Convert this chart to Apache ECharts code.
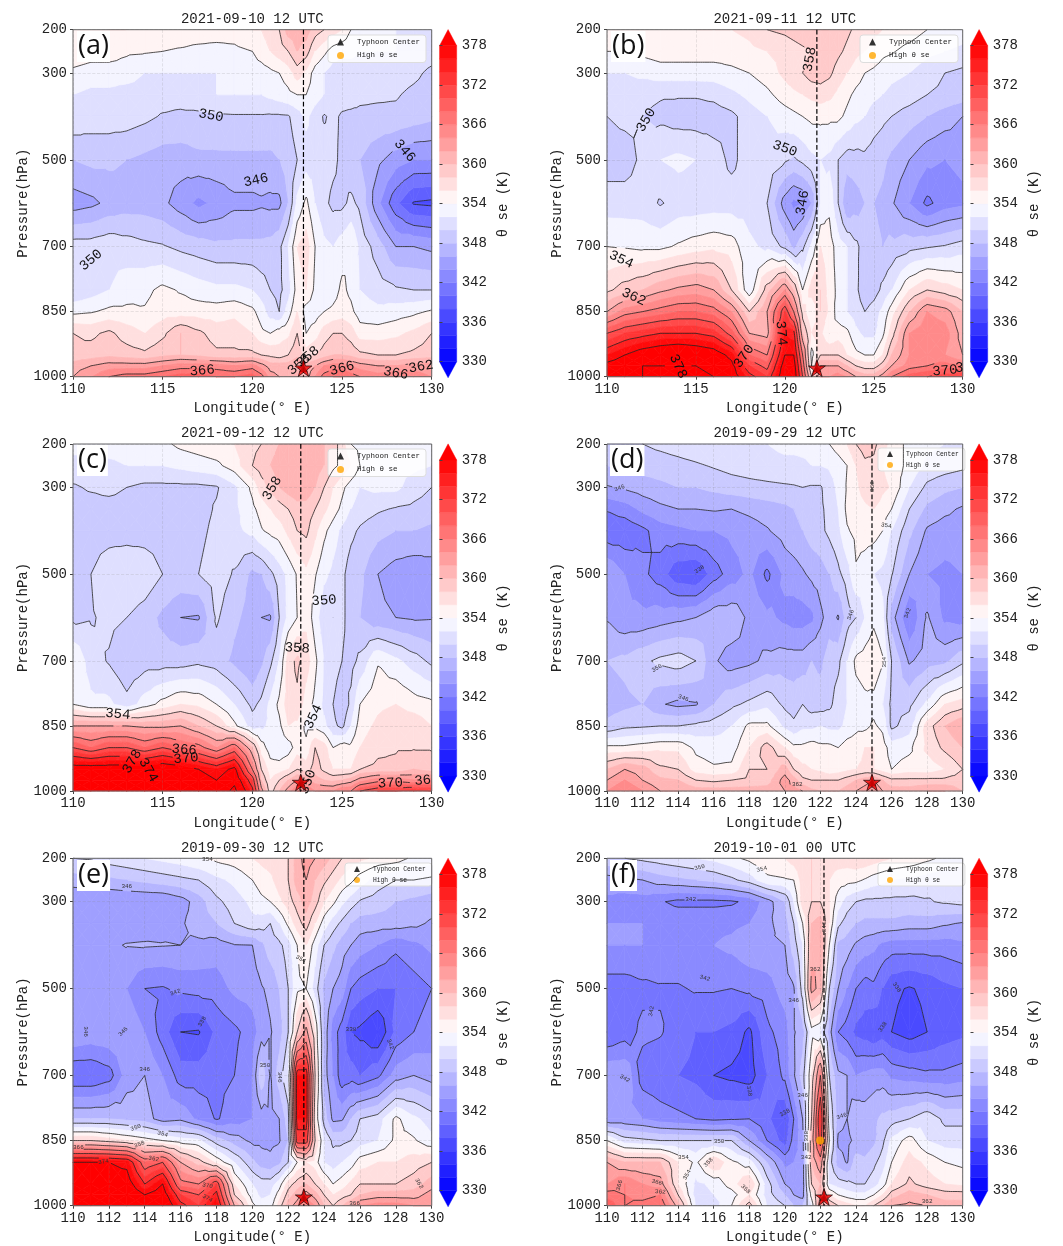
<!DOCTYPE html>
<html><head><meta charset="utf-8">
<script src="https://cdn.jsdelivr.net/npm/echarts@6/dist/echarts.min.js"></script>
<style>html,body{margin:0;padding:0;background:#fff}#c{width:1063px;height:1246px}</style>
</head><body><div id="c"></div>
<script>
var pressures=[200,250,300,350,400,500,600,700,800,850,900,950,975,1000];
var longitudes=[110,111,112,113,114,115,116,117,118,119,120,120.5,121,121.5,122,122.5,123,123.5,124,124.5,125,125.5,126,127,128,129,130];
var pressureTicks=[200,300,500,700,850,1000];
var titles=['2021-09-10 12 UTC','2021-09-11 12 UTC','2021-09-12 12 UTC','2019-09-29 12 UTC','2019-09-30 12 UTC','2019-10-01 00 UTC'];
var tags=['(a)','(b)','(c)','(d)','(e)','(f)'];
var centers=[[122.85,980],[121.8,980],[122.7,980],[124.9,980],[122.87,980],[122.2,980]];
var highPoints=[[],[],[],[],[],[[121.98,850]]];

var thetaA=[
[355,355,356,356,355,355,355,355,355,355, 356,356,357,358,361,361,361,359,358,357,356,354,353, 353,352,352,352],
[355.5,355,355,354.3,354.2,354,353.8,353.5,353.3,353.5, 354,355,356,357,358,360,359,356,354.5,353,352.5,352.5,352, 352,352,351.5,351],
[353.5,353,353,353,352,352,352,352,352,353, 353,353,353.5,354,355,357,355.5,353,352,351,351,351,351, 351,351,350.5,349.5],
[352,351.5,351.5,351,351,351,351,351.5,352,352, 352,352,352.5,353,353.5,354,354,353,352,351.5,351,351,350.5, 350.3,350.2,349.5,349],
[351.5,351,351,351,350.5,349.8,349.5,349.5,349.7,349.8, 349.8,349.8,349.7,349.7,349.8,351,352.5,351,349.8,350.5,349.7,349.5,349.5, 349.5,349.5,349,348.5],
[348,348.5,348.5,348,347.5,347,347,347.5,347.5,347.5, 347.5,347.5,347.5,348,349,350,351,351,351,350.5,349.5,348.5,348, 346.5,345,344,344],
[345,345.5,346.5,347,347,346.5,345,343.5,344.5,345.5, 345.5,345.7,345.5,345.5,348,352.5,354.5,352,350.5,349.5,349.5,350.5,349.5, 344.5,340.5,337.8,337.5],
[351,351,351.5,351,350.5,350.2,349.5,349,348.5,348.5, 348.5,348.5,348.7,349.5,352,356,357,354,352.5,352,353,354,351.5, 349,346,346,345.5],
[350,351,352,353,353.5,354.5,353.8,353,352.5,352.5, 352,351,350,349.5,351,355,356,353.5,352,353,354.5,353.5,352, 351,350.3,350,350],
[353.5,353.8,354.5,354.5,354.2,355,355,355,355,355.5, 354.5,353,351,350,353,356,353,353,354,354.5,355,354.5,353, 352.5,353,353.5,354.3],
[358,357.5,358.5,357,356,357.5,360,358.5,357,357, 356,354.5,354,355,355.5,358,354,355,357,358,358,357,355, 355,355.5,356.5,358],
[358.5,359,359.5,359,358.5,359.5,360,359.5,358.5,358.5, 358.5,358,357.5,357,358,359.5,357,358,359,360,360,359.5,358.5, 358,358,358.5,359],
[361,362,363,363,363,364,365,365,365,364, 365,363,361,361,361,362,361,362,364,365,365,364,363, 362,362,363,363],
[362,364,366,367,367,368,369,369,368,368, 369,367,363,362,361,361,361,364,367,368,368,367,366, 365,366,365,364]];

var thetaB=[
[355,355,355,355.5,355.5,356,356,356,356.5,358, 358.5,359,359.5,360,360,360,359.5,358.5,357.5,357,356.5,356,355.5, 355,354,353.5,353],
[354,354,354.5,355,355,355,355,355,355.5,356, 356.5,357,357.5,358,359,359.5,358.5,357.5,356.5,356,355.5,354.5,354.2, 353.3,352.5,352,351.5],
[352,352,352.5,353,353,353,353,353.5,354,355, 356.5,357.5,358,359,359,358.5,357,356,355,354,353.5,353,352.5, 352,351,350,349.5],
[351,351,350.5,350.2,350.2,350.2,350.5,351.5,352.5,353.5, 355,355.5,356,356.5,357,356.5,355.5,354.5,353.5,353,352.5,352,351.5, 351,350,349.5,349],
[350,350.5,350,349.5,349,349,349,349.5,351,352, 353,353.5,354,354.5,354.5,354.5,354.5,353.5,352.5,352,351,350.5,350, 349,348,347,346],
[349,349,350.5,352,352.5,352,351,349.5,351,351.5, 350.3,349.7,350.5,351.5,352,351.5,350,349,349.2,349.5,349,348.5,347.5, 346,344.5,344,344.5],
[351,351,351,349.8,350.8,350.8,351,351,351,350, 345,343.5,344,346,352,353.5,350,346,347,348,348,347.5,346.3, 344,341.5,343,343.5],
[354,353.8,353.5,353.5,354.3,355,355.5,355,352.5,351.5, 349.5,347.5,349.5,352.5,356,355,353,352,350.5,349,348.5,348,348.5, 349.3,349.8,350.2,351],
[357.5,359,360,361.5,362.5,363,362,358,352.5,359, 364,360,354,357,358,355,353.5,352,350.5,348.5,349,350.5,352, 356,358,357,356],
[362,365,366,367,368,368,367,364,358,362, 372,366,357,354,358,355.5,353,352,351,350,351,352.5,355, 360,364,363,360],
[370,372,373,374,374,374,373,369,362,361, 376,375,360,356,356.5,354,355,354.5,352.5,351.5,351.5,353.5,357, 364,365.5,365,361],
[376,378,380,381,382,381,380,377,368,366, 378,378,366,353,358,358,358,356,354.5,354,354,356,360, 364,365,364,362],
[379,380,382,382,382,382,381,379,372,369, 380,380,368,354,362,362,362,360,358,357,357,359,362, 365,366,367,366],
[380,381,382,383,383,383,382,380,375,372, 381,381,370,358,364,364,365,364,362,361,361,363,366, 369,370,371,372]];

var thetaC=[
[353,353,353,353,353,353.5,354.5,355,355.5,356, 357.5,358,359,360,361,361.5,361.5,361,360,359,357,354,353.5, 353,352.5,352.5,352.5],
[351,351,351.5,352,352,352,352.5,353,353.5,355, 358,359,360,361,361.5,361.8,361.5,361,360,358.5,357.5,356,354, 353,352.5,352.5,352],
[349.8,350.2,350.5,350,349.5,349.5,349.5,349.5,349.8,351.5, 354.5,357,358.5,360,361,361.7,361.5,360,358,356,354.5,353,352, 352.5,352.5,351,350],
[349.3,349.3,349.3,349.3,349,349,349,349.3,350.2,351.5, 353.5,354.8,356,357,358,359,359,358,356.5,355,353.5,352,351, 350.3,349.8,349.5,349],
[349,349,349,349,349,349,349,349.5,350.5,351.5, 352.5,353.8,354.5,355,356.5,358,358.5,356.5,354.5,353,351.5,350.5,349.7, 348.7,348,348,347.5],
[349.5,350,351.5,352,351.5,350,349.5,350,351,349.8, 347.5,348,349.5,351,352.5,354.2,355.5,354.2,352.5,351.5,350.5,349,348.5, 346,345,344.5,345],
[349.5,349.8,350.5,350,349,347.5,346,345.8,350.3,348.5, 347,346,345.8,350,352.5,354,355.5,353,350.5,350,350.5,349,348, 346.5,346,345.7,345.8],
[354,351,349.8,348.3,349,349,349,349.5,349,347.5, 346,347.5,349.5,352,357,358.5,357,354.5,352,351,350,349.3,350.5, 353.8,352.5,351,349.5],
[354,352.5,352.5,350.7,353,354.7,356,355.5,354,352, 349.5,350.5,352.5,354.5,357,357.5,355,353.5,351.5,350,348.5,350.5,354, 355.5,356,355,354.5],
[362,362,362,362,361.5,361.5,362,360,358,354.5, 351,351.5,352.5,353.5,356,355.5,353.5,353.5,352.5,350.5,349.5,352,355, 356.5,357.5,357.5,356],
[370,368,370,370,368,370,368,367,364,368, 360,355,353,352.5,353,355,354.5,358,357,354,355,354.5,356, 357.5,357.8,357.8,357.8],
[380,380,380,380,380,381,380,378,376,379, 366,358,355,355,356,358,357,359,357.5,356,356,356,358, 358.5,358.5,360,359],
[381,381,381,381,380,381,381,380,378,381, 372,360,356,358,360,362,362,361,360,359.5,360,361,363, 365,365,364,365],
[382,382,382,382,381,382,382,381,379,383, 375,363,357,360,363,366,366,364,364,364,366,366,370, 372,372,373,372]];

var thetaD=[
[349.5,349.7,350,350.5,351,351.5,352,352,352,352, 352.5,352.5,352.5,352.5,353,354,355,356,358,359,358.5,357,355, 353.5,352.5,352,352],
[348,348.5,348.8,349,349.3,349.7,350.2,350.7,351,351.3, 351.5,351.5,351.7,352,352,352.3,353,354,356,357.5,357.5,356,355, 353.5,351.5,351,350.5],
[345.8,346.3,347,347.5,348,348,348.5,349,349.3,349.5, 349.7,349.8,350,349.8,349.8,351,352.5,354.2,355.5,357,358,356.5,355.8, 352,349.5,348.5,348],
[342.2,343,344.5,345.5,346,346,346.2,346,346.5,347, 347.5,348,348.5,349.3,349.7,350.5,352,354.5,355,355.5,356,355,354, 350,347.5,346.5,345.7],
[340.5,340.5,341.5,343,343.5,344,344,344.5,345,345.8, 347,347.5,348,349,349.5,350.5,351.5,353.8,354.5,355,354.8,354,352, 348.5,345.7,345,345],
[346,344,342.5,341,338.5,338,341,343,344.5,341.5, 344.5,345,345.7,346.5,347,348,349.5,351,353.8,352.8,352,351.5,350.2, 346,344,343.5,344],
[345.8,344.5,344.5,345,345.5,346,347.5,347.5,345.5,344.5, 343.5,343,343,343.5,345.5,347,345.8,349,350,352,353.5,352.5,347, 342,346.3,343.5,343],
[348,348.5,349.5,350.5,351,350,346.3,345,345.5,346.5, 347,347,347,348,347.5,349,349.5,352,354.5,355,355.5,354.2,350, 345.7,347,347.5,349.5],
[347,347.5,348,346.2,345.5,345.8,348,349.5,350.5,351.5, 349.5,349,350,349,349,349.5,351,352,353,353.5,353.3,352,349.5, 349.5,352.5,356,357],
[348.5,349.5,349.7,350,350,350.5,351,352,354.5,354.5, 351.5,350.5,351.5,351.5,352,351.5,351.5,352.5,353.5,353.5,354.3,353.5,349.5, 351,357,360,362],
[354.5,354.5,355,355.5,355.5,353.5,353,353,356,359, 356,354.5,354.5,355,354.5,354.5,354,355,355,356,356,355,353, 353.5,356.5,358.5,360],
[360,362,361,358.5,358,355,354.3,354.5,358,358, 361,358,356.5,356,355.5,354.5,355,355.5,356,356.5,356,355,354, 355,354.8,356,358],
[362,364,362,360.5,360,358,357.5,358,358.5,359, 363,361,358.5,358,358,358,358,359,360,361,362,360,358.5, 358.5,358.5,358.5,359],
[364,366,364,362,362,361,361,361,361,361, 362,363,362,360.5,360,360,360,361,362,363,364,362,361, 361,362,362,360]];

var thetaE=[
[350,350.2,351,351.5,352,352.5,353,353.8,354.5,355, 356,356.5,357,357.5,358,361,363,362,361,359.5,358,357,356.5, 355.5,355,353.5,353],
[347,347.5,347.5,348,348.5,349,349.5,350,351.5,352.5, 354,355,355.5,357,358,361,362,360,358.5,357,355.5,354.5,353, 351,350,350,349.5],
[344,344,344,344,344,344,345,347,349.5,351, 352.5,353.5,354,355.5,357,359,361,359,356,354.5,352.5,351,349.8, 349,348,347.5,347],
[345,345,345,345,345,345.3,345.7,347,348,350, 351.5,351,350,352,354.5,357,359,356,353,351,349.5,348,347, 347,347,346.5,345.7],
[345,345,345.7,346.1,346.2,346.1,346,345.5,345,345.9, 346,347.5,349,349.5,351,354,356,353,350,348.5,347,346,345, 344,342.5,343.5,344.5],
[345.7,345,345,344,342,341.8,342.5,342.8,343,344.5, 345,345.8,346.5,348,350,353.5,354,351,347.5,346,345,342,341, 340,340,341,342],
[346,345.5,345.8,345.7,344,341,338,337.8,340.5,341.5, 343,345,345.8,347,350,358,363,356,347.5,343,341,338,337.5, 336,340.5,342,343],
[340,340,341,345,346,344,341,341,341.5,342, 344,349.5,345.8,349,352,376,376,358,347,344,340.5,341,340, 341.5,345,346,345],
[348,348,348,347.5,347,345,345.5,343.5,341.8,343, 344,345,345.5,346,349,376,376,356,349,345.5,345.7,348,350, 351,354.5,352.5,351],
[358,358,357,356,355,354,353,352.5,349,347, 345.5,345.5,345.5,345.8,348,372,372,358,352,349.5,349.5,350,351, 352,354.5,354.3,352.5],
[378,378,378,377,368,370,362,359,355.5,352, 348.5,347,346.5,347.5,350,354,356,355,352,351,352,353,355, 356,356,357,358],
[380,380,380,380,374,378,367,366,372,356, 352,351,351,353,357,359,360,358,356,354,355,356.5,358, 358,358,359,361],
[381,381,381,381,378,380,372,370,375,358, 353,351.5,352,355,359,361,363,361,358,356,357,358,360, 361,361,361,363],
[382,382,382,382,380,382,375,372,378,362, 354.5,353,353,357,361,363,366,364,360,358,360,362,364, 365,365,364,364]];

var thetaF=[
[349.5,350,350.5,351,351.5,352,352.5,353.5,354.5,355.5, 356,357,358,358,358,357,357,357,357.5,357.5,357,356.5,356, 355.5,354.5,353.5,353],
[345,345.5,346,347,347.5,348,348.5,349.5,351,353.5, 353.8,354,357,358,357.5,356,355,354.7,354.5,353.8,353,352.5,352, 351.5,351,350.5,350],
[343.5,343,343,342.2,341.5,341.5,341.5,341.7,342.5,345, 348,352,357,358,358,356,353,351,350,349.5,349.5,349.5,349.5, 349.5,349.8,350.3,350.7],
[344,344,344,343.5,343.5,343.5,343.5,343.5,344,345.5, 347,350,354,360,361,356,350.5,349,348,347.5,347.5,347.5,347.5, 347,347,346.3,345.8],
[344,344,344,343.5,343.5,343.8,344,344.5,345.5,345.7, 346,349,352,361,362,354,347.5,347,345.7,345,344.5,343.5,343, 343,343,343,343.5],
[341,341,341.5,341.8,341.8,342.2,342.2,342,342.5,343, 345,345.8,351,363,361,350,346,344,342,341,341.5,340,338.5, 337.8,338.5,339.5,340],
[340,341,342.5,342.2,341,340,340,339.5,337.5,341.5, 343,345.8,347,353,352,347,342,341,339.5,339,338.2,339,338, 337,338,339,339.5],
[345.8,345.8,341,340.5,340,339.5,338,337.5,337,340, 342.5,345.7,349,356,366,350,346.5,346,344,344.5,345,345,343.5, 343,342.5,342.5,343],
[344.5,344.5,344,343,342.5,342,341.5,341.8,342,340.5, 338,342,346,358,374,352,347,346,347.5,347,347.5,348.5,349, 350,351.5,349.5,349.5],
[354,351,350.5,350,350,350,350,350,346,342, 339,343,345,360,372,354,345.5,345.5,346.5,346.5,347.5,349.5,352.5, 355,352,351,351],
[362,360,360,360,356,353.5,358,354.5,353,348, 343.5,344,344.5,360,364,351,347,345.8,349,348.5,349.5,351,354, 357,355.5,354,353.5],
[364,366,364,363,356,351.5,352.5,355,358,351, 346,345,344.5,358,360,352,351,350.5,350,350,351,353,356, 358.5,357,356,355.5],
[367,366,365,366,358,351,352,353,356,351, 348,346,345,355,362,356,354,353,352.5,352.5,354,356,359, 361,360,359,359],
[370,366,367,368,361,352,351,354,359,352, 350,348,348,352,364,360,358,357,356,356,358,360,362, 362.5,362,361,361]];

var labelsA=[[117.7,398,'350',-10],[120.2,547,'346',12],[128.5,479,'346',-50],[111,731,'350',40],[117.2,986,'366',5],[125,981,'366',15],[128,992,'366',-10],[129.4,977,'362',10],[123.1,954,'358',40],[122.6,972,'358',40]];
var labelsB=[[121.4,268,'358',80],[112.2,408,'350',60],[120,474,'350',-20],[121,599,'346',80],[110.8,730,'354',-25],[111.5,816,'362',-25],[119.8,900,'374',-85],[117.7,953,'370',55],[114,976,'378',-65],[129,986,'370',5],[129.8,980,'3',0]];
var labelsC=[[121.1,302,'358',60],[124,561,'350',5],[122.5,671,'358',-3],[112.5,823,'354',-5],[123.4,829,'354',65],[116.2,905,'366',-5],[116.3,925,'370',5],[113.3,932,'378',60],[114.2,952,'374',-60],[127.7,982,'370',3],[129.5,976,'36',5],[123.1,979,'350',70]];
var labelsD=[[110.7,302,'346',20],[115.2,489,'338',35],[112.8,717,'350',30],[114.3,786,'346',-20],[123.7,594,'346',70],[126.9,590,'342',70],[125.7,388,'354',-10],[125.6,703,'354',90],[124.9,298,'358',90],[120.7,985,'362',0]];
var labelsE=[[113,265,'346',0],[115.7,509,'342',20],[117.2,576,'338',60],[110.7,599,'346',-90],[112.8,599,'346',45],[114,686,'346',0],[120.7,676,'350',0],[121.5,704,'346',-90],[125.5,595,'338',0],[127.7,628,'342',-70],[113.5,820,'350',20],[115,835,'354',-15],[113.7,859,'358',20],[110.3,866,'366',0],[114.5,892,'362',-10],[111.7,899,'374',10],[117.5,954,'370',-10],[117.5,983,'374',-30],[129.3,949,'362',-60],[122.7,432,'354',-30],[117.5,203,'354',0],[125.7,995,'366',0]];
var labelsF=[[115.2,221,'350',15],[118.7,225,'354',15],[114.7,294,'342',0],[115.5,476,'342',-15],[112.5,552,'342',80],[111,707,'342',-30],[118,736,'338',-80],[120.5,528,'346',0],[121.7,457,'362',0],[121,745,'346',0],[120,786,'338',30],[123.2,794,'346',20],[116.3,851,'350',0],[114.3,888,'354',0],[115.7,900,'358',45],[114.5,929,'354',60],[117.8,962,'358',-45],[112.8,946,'366',-15],[113,968,'362',-5],[110.7,953,'366',75],[128,989,'362',0],[121.2,889,'342',0],[125.5,588,'338',55],[126.3,497,'338',-55],[122.2,358,'346',90],[121.2,840,'338',90]];

var panels=[thetaA,thetaB,thetaC,thetaD,thetaE,thetaF];
var panelLabels=[labelsA,labelsB,labelsC,labelsD,labelsE,labelsF];

var FONT='"Liberation Mono","DejaVu Sans Mono",monospace';
var gridX=[[73,358.7],[607,355.7]];
var gridY=[[29.7,347],[444,347],[858.3,347.4]];
var tagBox=[[77,31],[611,31],[77,445],[610,445],[77,860],[610,860]];
var legendPos=[[328,35,7.5],[860,35,7.5],[328,449,7.5],[878,448,6.3],[345,863,6.3],[878,863,6.3]];
var STAR='path://M50,2 L61.8,38 L100,38 L69,60.5 L80.9,97 L50,74.5 L19.1,97 L31,60.5 L0,38 L38.2,38 Z';

var bandEdges=[];for(var b=330;b<=378;b+=2)bandEdges.push(b);
function bandColor(i){ // bwr colormap sampled at band centre
  if(i<0)return 'rgb(0,0,255)'; if(i>=bandEdges.length-1)return 'rgb(255,0,0)';
  var t=(i+0.5)/(bandEdges.length-1),c;
  if(t<0.5){c=Math.round(510*t);return 'rgb('+c+','+c+',255)';}
  c=Math.round(510*(1-t));return 'rgb(255,'+c+','+c+')';
}
var contourLevels=[];for(var l=334;l<=382;l+=4)contourLevels.push(l+0.001);

function clipAbove(poly,lim,sign){
  var out=[];
  for(var i=0;i<poly.length;i++){
    var a=poly[i],c=poly[(i+1)%poly.length];
    var ai=sign*(a[2]-lim)>=0,ci=sign*(c[2]-lim)>=0;
    if(ai)out.push(a);
    if(ai!==ci){var f=(lim-a[2])/(c[2]-a[2]);out.push([a[0]+f*(c[0]-a[0]),a[1]+f*(c[1]-a[1]),lim]);}
  }
  return out;
}
function cellTriangles(Z,i,j){
  var x0=longitudes[i],x1=longitudes[i+1],y0=pressures[j],y1=pressures[j+1];
  var a=[x0,y0,Z[j][i]],c=[x1,y0,Z[j][i+1]],d=[x1,y1,Z[j+1][i+1]],e=[x0,y1,Z[j+1][i]];
  var m=[(x0+x1)/2,(y0+y1)/2,(a[2]+c[2]+d[2]+e[2])/4];
  return [[a,c,m],[c,d,m],[d,e,m],[e,a,m]];
}
function makeCells(){var out=[];for(var j=0;j<pressures.length-1;j++)for(var i=0;i<longitudes.length-1;i++)out.push([longitudes[i],pressures[j],i,j]);return out;}

var option={animation:false,backgroundColor:'#fff',grid:[],xAxis:[],yAxis:[],series:[],title:[],legend:[]};

panels.forEach(function(Z,k){
  var gx=gridX[k%2],gy=gridY[Math.floor(k/2)],small=k>=3;
  option.grid[k]={left:gx[0],top:gy[0],width:gx[1],height:gy[1]};
  option.xAxis[k]={type:'value',gridIndex:k,min:110,max:130,interval:small?2:5,name:'Longitude(° E)',nameLocation:'middle',nameGap:25,nameMoveOverlap:false,
    nameTextStyle:{fontFamily:FONT,fontSize:14,color:'#222'},z:3,
    axisLine:{show:false},axisTick:{length:3,lineStyle:{color:'#444'}},
    axisLabel:{fontFamily:FONT,fontSize:14,color:'#222',margin:5.5},
    splitLine:{show:true,lineStyle:{color:'rgba(120,120,120,0.22)',type:'dashed',width:0.8}}};
  option.yAxis[k]={type:'value',gridIndex:k,min:200,max:1000,inverse:true,name:'Pressure(hPa)',nameLocation:'middle',nameGap:43,nameMoveOverlap:false,
    nameTextStyle:{fontFamily:FONT,fontSize:14,color:'#222'},z:3,
    axisLine:{show:false},axisTick:{length:3,customValues:pressureTicks,lineStyle:{color:'#444'}},
    axisLabel:{customValues:pressureTicks,formatter:function(v){return String(v);},fontFamily:FONT,fontSize:14,color:'#222',margin:6},
    splitLine:{show:true,lineStyle:{color:'rgba(120,120,120,0.22)',type:'dashed',width:0.8}}};

  var cells=makeCells();
  option.series.push({type:'custom',coordinateSystem:'cartesian2d',xAxisIndex:k,yAxisIndex:k,z:2,silent:true,progressive:0,
    encode:{x:0,y:1},data:cells,
    renderItem:function(params,api){
      var c=cells[params.dataIndex],kids=[];
      cellTriangles(Z,c[2],c[3]).forEach(function(t){
        var vs=[t[0][2],t[1][2],t[2][2]],mn=Math.min.apply(null,vs),mx=Math.max.apply(null,vs);
        for(var b=-1;b<bandEdges.length;b++){
          var lo=b<0?-1e9:bandEdges[b],hi=b>=bandEdges.length-1?1e9:bandEdges[b+1];
          if(mx<lo||mn>=hi)continue;
          var p=t;
          if(lo>-1e8)p=clipAbove(p,lo,1);
          if(p.length&&hi<1e8)p=clipAbove(p,hi,-1);
          if(p.length<3)continue;
          var col=bandColor(b);
          kids.push({type:'polygon',shape:{points:p.map(function(q){return api.coord([q[0],q[1]]);})},style:{fill:col,stroke:col,lineWidth:0.7}});
        }
      });
      return {type:'group',children:kids};
    }});

  var labs=panelLabels[k],gapR=small?5.5:12;
  option.series.push({type:'custom',coordinateSystem:'cartesian2d',xAxisIndex:k,yAxisIndex:k,z:4,silent:true,progressive:0,
    encode:{x:0,y:1},data:cells,
    renderItem:function(params,api){
      var c=cells[params.dataIndex],kids=[];
      var labPx=labs.map(function(L){return api.coord([L[0],L[1]]);});
      if(params.dataIndex===0){
        var tl=api.coord([110,200]),br=api.coord([130,1000]);
        kids.push({type:'rect',z2:5,shape:{x:tl[0],y:tl[1],width:br[0]-tl[0],height:br[1]-tl[1]},style:{fill:null,stroke:'#666',lineWidth:1}});
      }
      cellTriangles(Z,c[2],c[3]).forEach(function(t){
        contourLevels.forEach(function(lv){
          var pts=[];
          for(var e=0;e<3;e++){
            var a=t[e],d=t[(e+1)%3];
            if((a[2]-lv)*(d[2]-lv)<0){var f=(lv-a[2])/(d[2]-a[2]);pts.push([a[0]+f*(d[0]-a[0]),a[1]+f*(d[1]-a[1])]);}
          }
          if(pts.length<2)return;
          var A=api.coord(pts[0]),B=api.coord(pts[1]);
          var len=Math.hypot(B[0]-A[0],B[1]-A[1]),n=Math.max(1,Math.ceil(len/2.5));
          var run=null;
          function flush(){if(run&&run.length>1)kids.push({type:'polyline',shape:{points:run},style:{fill:null,stroke:'#222',lineWidth:0.8}});run=null;}
          for(var s=0;s<=n;s++){
            var P=[A[0]+(B[0]-A[0])*s/n,A[1]+(B[1]-A[1])*s/n],hit=false;
            for(var q=0;q<labPx.length;q++){if(Math.hypot(P[0]-labPx[q][0],P[1]-labPx[q][1])<gapR){hit=true;break;}}
            if(hit){flush();}else{(run=run||[]).push(P);}
          }
          flush();
        });
      });
      return {type:'group',children:kids};
    }});

  option.series.push({type:'line',xAxisIndex:k,yAxisIndex:k,z:5,silent:true,symbol:'none',
    data:[[centers[k][0],200],[centers[k][0],1000]],lineStyle:{color:'#000',type:'dashed',width:1.2}});

  option.series.push({type:'custom',coordinateSystem:'cartesian2d',xAxisIndex:k,yAxisIndex:k,z:6,silent:true,
    encode:{x:0,y:1},data:labs.map(function(L){return [L[0],L[1]];}),
    renderItem:function(params,api){
      var L=labs[params.dataIndex],p=api.coord([L[0],L[1]]);
      return {type:'text',x:p[0],y:p[1],rotation:L[3]*Math.PI/180,
        style:{text:L[2],font:(small?'6px ':'14px ')+FONT,fill:small?'#333':'#111',align:'center',verticalAlign:'middle'}};
    }});

  option.series.push({type:'scatter',name:'Typhoon Center',xAxisIndex:k,yAxisIndex:k,z:7,silent:true,symbol:'triangle',symbolSize:8,
    itemStyle:{color:'#000'},data:[centers[k]]});
  option.series.push({type:'scatter',name:'High θ se',xAxisIndex:k,yAxisIndex:k,z:7,silent:true,symbol:'circle',symbolSize:8,
    itemStyle:{color:'#ffa500'},data:highPoints[k]});
  option.series.push({type:'scatter',xAxisIndex:k,yAxisIndex:k,z:8,silent:true,symbol:STAR,symbolSize:17,
    itemStyle:{color:'#f00000',borderColor:'#000',borderWidth:0.8},data:[centers[k]]});

  option.title.push({text:titles[k],left:gx[0]+gx[1]/2,top:gy[0]-17.5,textAlign:'center',padding:0,
    textStyle:{fontFamily:FONT,fontSize:14,fontWeight:'normal',color:'#222'}});
  option.title.push({text:tags[k],left:tagBox[k][0],top:tagBox[k][1],padding:[0,1,0,1],backgroundColor:'#fff',
    textStyle:{fontFamily:'"Open Sans"',fontSize:27,fontWeight:'normal',color:'#111',lineHeight:31}});

  var lp=legendPos[k],fs=lp[2];
  option.legend.push({orient:'vertical',left:lp[0],top:lp[1],data:['Typhoon Center','High θ se'],selectedMode:false,
    itemWidth:fs<7?6:7,itemHeight:fs<7?6:7,itemGap:fs<7?5:5.5,padding:[3,6,3,9],
    backgroundColor:'rgba(255,255,255,0.8)',borderColor:'#ddd',borderWidth:1,borderRadius:3,
    textStyle:{fontFamily:FONT,fontSize:fs,color:'#222',padding:[0,0,0,8]}});

  // colour bar
  var cbIdx=6+k,cbLeft=gx[0]+gx[1]+7.8;
  option.grid[cbIdx]={left:cbLeft,top:gy[0]+16,width:17.2,height:gy[1]-31};
  option.xAxis[cbIdx]={type:'value',gridIndex:cbIdx,min:0,max:1,show:false};
  option.yAxis[cbIdx]={type:'value',gridIndex:cbIdx,min:330,max:378,interval:6,position:'right',name:'θ se (K)',nameLocation:'middle',nameRotate:90,nameGap:40,nameMoveOverlap:false,
    nameTextStyle:{fontFamily:FONT,fontSize:14,color:'#222'},z:3,
    axisLine:{show:false},axisTick:{show:true,length:3,lineStyle:{color:'#444'}},splitLine:{show:false},
    axisLabel:{fontFamily:FONT,fontSize:14,color:'#222',margin:5}};
  var cbData=[-1].concat(bandEdges.slice(0,-1).map(function(_,i){return i;})).concat([bandEdges.length-1]);
  option.series.push({type:'custom',coordinateSystem:'cartesian2d',xAxisIndex:cbIdx,yAxisIndex:cbIdx,z:2,silent:true,clip:false,
    encode:{x:0,y:1},data:cbData.map(function(i){return [0,i<0?330:(i>=bandEdges.length-1?378:bandEdges[i])];}),
    renderItem:function(params,api){
      var i=cbData[params.dataIndex],pts;
      if(i<0)pts=[[0,330],[1,330],[0.5,327.55]];
      else if(i>=bandEdges.length-1)pts=[[0,378],[1,378],[0.5,380.45]];
      else pts=[[0,bandEdges[i]],[1,bandEdges[i]],[1,bandEdges[i+1]],[0,bandEdges[i+1]]];
      var col=bandColor(i);
      return {type:'polygon',shape:{points:pts.map(function(q){return api.coord(q);})},style:{fill:col,stroke:col,lineWidth:0.4}};
    }});
});

var chart=echarts.init(document.getElementById('c'),null,{renderer:'canvas',width:1063,height:1246});
chart.setOption(option);
</script></body></html>
